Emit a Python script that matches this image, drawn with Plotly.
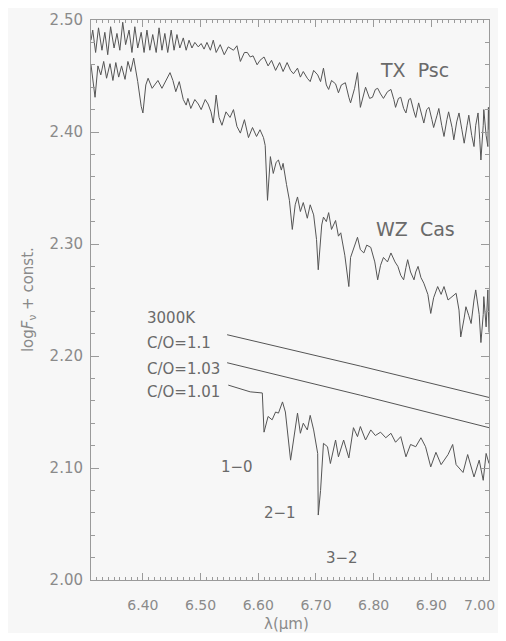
import plotly.graph_objects as go

# ---------------- data ----------------
tx_wl = [6.310, 6.313, 6.318, 6.323, 6.329, 6.334, 6.339, 6.344, 6.350, 6.355,
         6.360, 6.365, 6.370, 6.376, 6.381, 6.386, 6.391, 6.397, 6.402, 6.407,
         6.412, 6.417, 6.423, 6.428, 6.433, 6.438, 6.443, 6.449, 6.454, 6.459,
         6.464, 6.470, 6.475, 6.480, 6.485, 6.490, 6.496, 6.501, 6.506, 6.511,
         6.517, 6.522, 6.527, 6.534, 6.541, 6.548, 6.557, 6.563, 6.569, 6.576,
         6.581, 6.586, 6.591, 6.598, 6.603, 6.610, 6.617, 6.623, 6.630, 6.637,
         6.643, 6.650, 6.656, 6.661, 6.668, 6.673, 6.678, 6.685, 6.690, 6.696,
         6.703, 6.708, 6.713, 6.718, 6.722, 6.727, 6.734, 6.739, 6.744, 6.751,
         6.757, 6.760, 6.767, 6.772, 6.777, 6.783, 6.786, 6.793, 6.798, 6.803,
         6.807, 6.812, 6.817, 6.824, 6.830, 6.835, 6.838, 6.843, 6.847, 6.852,
         6.856, 6.861, 6.864, 6.870, 6.873, 6.878, 6.883, 6.887, 6.892, 6.896,
         6.901, 6.904, 6.910, 6.913, 6.918, 6.922, 6.927, 6.930, 6.936, 6.939,
         6.944, 6.948, 6.953, 6.957, 6.962, 6.965, 6.970, 6.974, 6.977, 6.981,
         6.984, 6.986, 6.990, 6.991, 6.995, 6.998, 6.999, 7.000]
tx_flux = [2.482, 2.491, 2.471, 2.493, 2.473, 2.489, 2.469, 2.494, 2.475, 2.488,
           2.473, 2.498, 2.478, 2.491, 2.471, 2.494, 2.475, 2.489, 2.471, 2.491,
           2.473, 2.487, 2.471, 2.493, 2.473, 2.488, 2.471, 2.491, 2.473, 2.487,
           2.475, 2.484, 2.473, 2.482, 2.475, 2.480, 2.476, 2.479, 2.474, 2.480,
           2.473, 2.482, 2.471, 2.478, 2.469, 2.476, 2.473, 2.477, 2.463, 2.471,
           2.471, 2.467, 2.468, 2.460, 2.464, 2.467, 2.459, 2.464, 2.455, 2.462,
           2.454, 2.462, 2.455, 2.452, 2.457, 2.449, 2.454, 2.448, 2.445, 2.455,
           2.451, 2.445, 2.457, 2.442, 2.438, 2.446, 2.443, 2.435, 2.442, 2.444,
           2.431, 2.426, 2.439, 2.453, 2.422, 2.433, 2.440, 2.430, 2.431, 2.438,
           2.439, 2.434, 2.430, 2.436, 2.438, 2.429, 2.422, 2.430, 2.431, 2.421,
           2.417, 2.429, 2.430, 2.418, 2.413, 2.426, 2.415, 2.408, 2.420, 2.422,
           2.411, 2.404, 2.415, 2.421, 2.406, 2.396, 2.411, 2.418, 2.404, 2.393,
           2.409, 2.417, 2.402, 2.390, 2.406, 2.415, 2.397, 2.387, 2.406, 2.417,
           2.393, 2.375, 2.406, 2.420, 2.397, 2.387, 2.422, 2.402]

wz_wl = [6.310, 6.313, 6.317, 6.322, 6.327, 6.332, 6.337, 6.343, 6.348, 6.353,
         6.358, 6.363, 6.369, 6.374, 6.379, 6.384, 6.391, 6.397, 6.400, 6.405,
         6.409, 6.416, 6.421, 6.426, 6.433, 6.440, 6.447, 6.452, 6.457, 6.463,
         6.470, 6.475, 6.478, 6.483, 6.490, 6.496, 6.501, 6.508, 6.513, 6.518,
         6.522, 6.527, 6.532, 6.537, 6.544, 6.551, 6.557, 6.563, 6.569, 6.576,
         6.583, 6.590, 6.597, 6.603, 6.609, 6.612, 6.616, 6.621, 6.626, 6.631,
         6.635, 6.640, 6.643, 6.649, 6.654, 6.659, 6.664, 6.668, 6.673, 6.678,
         6.685, 6.690, 6.696, 6.701, 6.704, 6.710, 6.713, 6.718, 6.722, 6.727,
         6.734, 6.739, 6.743, 6.750, 6.757, 6.760, 6.767, 6.772, 6.777, 6.783,
         6.788, 6.795, 6.802, 6.807, 6.812, 6.817, 6.824, 6.830, 6.837, 6.842,
         6.847, 6.852, 6.856, 6.859, 6.864, 6.870, 6.873, 6.877, 6.882, 6.887,
         6.894, 6.899, 6.904, 6.911, 6.917, 6.922, 6.929, 6.934, 6.939, 6.943,
         6.948, 6.951, 6.957, 6.960, 6.965, 6.969, 6.974, 6.977, 6.983, 6.986,
         6.990, 6.991, 6.995, 6.998, 7.000]
wz_flux = [2.460, 2.446, 2.431, 2.459, 2.451, 2.463, 2.448, 2.461, 2.446, 2.462,
           2.449, 2.459, 2.447, 2.463, 2.454, 2.466, 2.445, 2.423, 2.417, 2.442,
           2.448, 2.439, 2.442, 2.446, 2.439, 2.446, 2.453, 2.446, 2.436, 2.445,
           2.429, 2.424, 2.430, 2.421, 2.429, 2.425, 2.420, 2.429, 2.425, 2.418,
           2.408, 2.433, 2.413, 2.406, 2.418, 2.413, 2.420, 2.405, 2.399, 2.411,
           2.395, 2.404, 2.396, 2.402, 2.395, 2.388, 2.339, 2.378, 2.363, 2.373,
           2.375, 2.366, 2.372, 2.353, 2.339, 2.313, 2.335, 2.342, 2.329, 2.337,
           2.323, 2.335, 2.326, 2.304, 2.277, 2.317, 2.324, 2.320, 2.328, 2.313,
           2.321, 2.307, 2.310, 2.290, 2.262, 2.288, 2.299, 2.306, 2.295, 2.292,
           2.299, 2.297, 2.284, 2.268, 2.281, 2.288, 2.284, 2.292, 2.284, 2.280,
           2.272, 2.268, 2.279, 2.286, 2.275, 2.268, 2.275, 2.280, 2.270, 2.265,
           2.255, 2.238, 2.252, 2.262, 2.255, 2.262, 2.250, 2.252, 2.254, 2.256,
           2.241, 2.217, 2.234, 2.244, 2.236, 2.229, 2.250, 2.259, 2.237, 2.212,
           2.237, 2.253, 2.226, 2.259, 2.221]

m101_wl = [6.548, 6.586, 6.607, 6.610, 6.617, 6.624, 6.630, 6.635, 6.642, 6.647,
           6.656, 6.668, 6.673, 6.678, 6.685, 6.690, 6.696, 6.703, 6.704, 6.708,
           6.713, 6.720, 6.725, 6.734, 6.739, 6.748, 6.757, 6.765, 6.772, 6.777,
           6.786, 6.795, 6.803, 6.812, 6.821, 6.830, 6.838, 6.847, 6.856, 6.864,
           6.873, 6.882, 6.890, 6.899, 6.908, 6.917, 6.929, 6.937, 6.943, 6.955,
           6.963, 6.974, 6.983, 6.990, 6.995, 7.000]
m101_flux = [2.174, 2.168, 2.167, 2.132, 2.146, 2.143, 2.150, 2.149, 2.159, 2.150,
             2.107, 2.149, 2.131, 2.140, 2.134, 2.147, 2.134, 2.113, 2.058, 2.080,
             2.122, 2.119, 2.104, 2.125, 2.110, 2.125, 2.109, 2.136, 2.128, 2.137,
             2.125, 2.134, 2.129, 2.132, 2.127, 2.131, 2.123, 2.128, 2.110, 2.121,
             2.119, 2.127, 2.119, 2.101, 2.114, 2.103, 2.112, 2.121, 2.103, 2.096,
             2.112, 2.092, 2.107, 2.089, 2.113, 2.104]

m110_wl = [6.546, 6.777, 7.000]
m110_flux = [2.219, 2.191, 2.163]
m103_wl = [6.546, 6.777, 7.000]
m103_flux = [2.194, 2.165, 2.136]

x_ticks = [6.40, 6.50, 6.60, 6.70, 6.80, 6.90, 7.00]
x_tick_text = ["6.40", "6.50", "6.60", "6.70", "6.80", "6.90", ""]
last_x_label = "7.00"
y_ticks = [2.00, 2.10, 2.20, 2.30, 2.40, 2.50]

# ---------------- figure ----------------
LINE = "#555555"
AX = "#9a9a9a"
TXT = "#8a8a8a"
FONT = "DejaVu Sans"

fig = go.Figure()
for wl, fl in [(tx_wl, tx_flux), (wz_wl, wz_flux), (m110_wl, m110_flux),
               (m103_wl, m103_flux), (m101_wl, m101_flux)]:
    fig.add_trace(go.Scatter(x=wl, y=fl, mode="lines",
                             line=dict(color=LINE, width=1), showlegend=False,
                             hoverinfo="skip"))

labels = [
    ("TX  Psc", 6.870, 2.455, "center", 19),
    ("WZ  Cas", 6.873, 2.313, "center", 19),
    ("3000K", 6.403, 2.234, "left", 15),
    ("C/O=1.1", 6.403, 2.212, "left", 15),
    ("C/O=1.03", 6.403, 2.188, "left", 15),
    ("C/O=1.01", 6.403, 2.168, "left", 15),
    ("1\u22120", 6.563, 2.101, "center", 15),
    ("2\u22121", 6.638, 2.060, "center", 15),
    ("3\u22122", 6.746, 2.020, "center", 15),
]
for t, x, y, anc, sz in labels:
    fig.add_annotation(x=x, y=y, text=t, showarrow=False, xanchor=anc,
                       yanchor="middle", font=dict(family=FONT, size=sz, color="#6a6a6a"))

# last x tick label placed so that it stays inside the visible page
fig.add_annotation(xref="paper", yref="paper", x=1.0, y=-0.0455,
                   text=last_x_label, showarrow=False, xanchor="right",
                   yanchor="middle", xshift=8,
                   font=dict(family=FONT, size=14, color=TXT))

fig.add_annotation(xref="paper", yref="paper", x=-0.158, y=0.5,
                   text="log<i>F</i><sub>\u03bd</sub> + const.", textangle=-90,
                   showarrow=False, xanchor="center", yanchor="middle",
                   font=dict(family=FONT, size=15, color=TXT))
fig.add_annotation(xref="paper", yref="paper", x=0.492, y=-0.078,
                   text="\u03bb(\u03bcm)", showarrow=False, xanchor="center",
                   yanchor="middle", font=dict(family=FONT, size=15, color=TXT))

fig.update_xaxes(range=[6.31, 7.00], tickvals=x_ticks, ticktext=x_tick_text,
                 ticks="inside", ticklen=7, tickcolor=AX, tickwidth=1,
                 minor=dict(dtick=0.01, ticks="inside", ticklen=3, tickcolor=AX),
                 showline=True, linecolor=AX, linewidth=1, mirror="allticks",
                 showgrid=False, zeroline=False, ticklabelstandoff=12,
                 automargin=False,
                 tickfont=dict(family=FONT, size=14, color=TXT))
fig.update_yaxes(range=[2.00, 2.50], tickvals=y_ticks, tickformat=".2f",
                 ticks="inside", ticklen=8, tickcolor=AX, tickwidth=1,
                 minor=dict(dtick=0.02, ticks="inside", ticklen=4, tickcolor=AX),
                 showline=True, linecolor=AX, linewidth=1, mirror="allticks",
                 showgrid=False, zeroline=False, ticklabelstandoff=4,
                 automargin=False,
                 tickfont=dict(family=FONT, size=15, color=TXT))

fig.update_layout(width=498, height=625,
                  margin=dict(l=83, r=17, t=12, b=53),
                  paper_bgcolor="#f7f7f7", plot_bgcolor="#f7f7f7",
                  font=dict(family=FONT))

fig.write_html("out.html")
